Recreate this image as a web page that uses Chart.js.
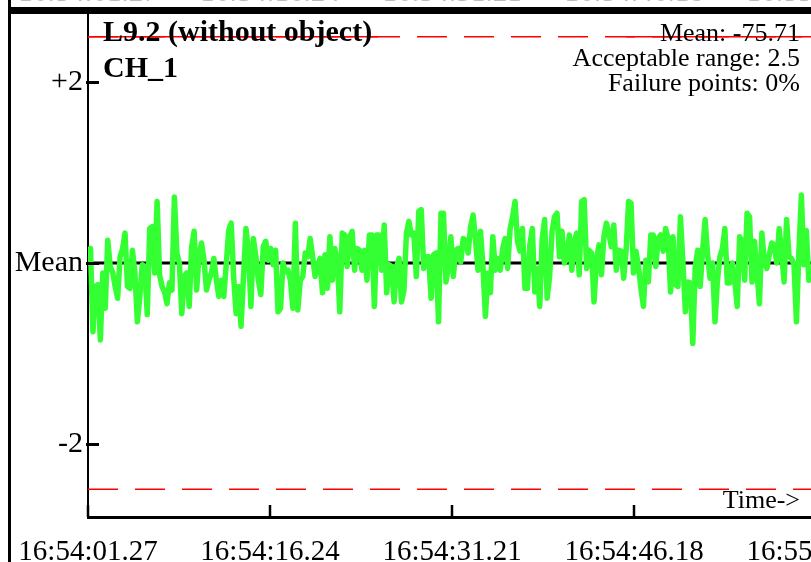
<!DOCTYPE html>
<html lang="en">
<head>
  <meta charset="UTF-8" />
  <title>L9.2 CH_1</title>
  <script src="https://cdn.jsdelivr.net/npm/chart.js"></script>
  <style>
    html, body { margin: 0; padding: 0; background: #fff; overflow: hidden; }
    #wrap { position: absolute; left: 0; top: 0; width: 1000px; height: 562px; }
  </style>
</head>
<body>
  <div id="wrap"><canvas id="chart" width="1000" height="562"></canvas></div>

  <script>
    // tick values (seconds from start) and their labels
    const tickValues = [0, 14.97, 29.94, 44.91, 59.88];
    const tickLabels = ['16:54:01.27', '16:54:16.24', '16:54:31.21', '16:54:46.18', '16:55:01.15'];

    // y ticks (deviation from mean)
    const yTickValues = [-2, 0, 2];
    const yTickLabels = ['-2', 'Mean', '+2'];

    const acceptableRange = 2.5;
    const sampleStep = 0.203; // seconds between samples

    // deviation from mean
    const deviation = [
      0.00, 0.16, -0.76, -0.26, -0.24, -0.85, -0.11, -0.50, 0.25, -0.04,
      -0.10, -0.26, -0.39, 0.07, 0.16, 0.33, -0.26, -0.28, 0.14, -0.11,
      -0.65, -0.37, -0.02, -0.04, -0.57, 0.38, 0.40, -0.11, 0.68, -0.13,
      -0.26, -0.32, -0.45, -0.22, -0.30, 0.73, 0.11, 0.00, -0.56, -0.15,
      -0.11, -0.48, 0.18, 0.35, -0.30, 0.09, 0.22, 0.03, -0.30, -0.19,
      -0.11, 0.05, -0.19, -0.37, -0.19, -0.37, -0.02, 0.36, 0.44, -0.15,
      -0.56, -0.26, -0.70, -0.15, 0.38, 0.13, -0.48, 0.27, 0.07, -0.19,
      -0.35, 0.18, 0.24, 0.03, 0.16, -0.02, 0.14, -0.54, -0.50, 0.00,
      -0.10, -0.08, -0.19, -0.50,
      0.44, -0.52, -0.19, -0.15, 0.11, 0.07, 0.27, 0.07, -0.15, -0.04,
      0.05, -0.33, 0.09, -0.28, 0.29, -0.19, 0.16, 0.03, -0.54, 0.33,
      0.31, -0.04, 0.29, 0.35, -0.08, 0.16, 0.14, -0.08, 0.14, -0.19,
      0.31, 0.31, -0.48, 0.31, 0.31, -0.08, 0.42, -0.33, -0.02, -0.04,
      -0.43, -0.04, 0.05, -0.43, -0.30, 0.33, 0.46, 0.31, 0.33, -0.15,
      0.57, 0.59, -0.06, 0.07, 0.07, -0.39, 0.09, 0.11, -0.65, 0.55,
      0.55, -0.21, -0.04, 0.29, -0.15, 0.14, 0.16, 0.01, 0.27, 0.25,
      0.11, 0.40, 0.53, 0.25, -0.08, 0.35, -0.04, -0.59, -0.11, -0.33,
      0.29, -0.08, 0.05, -0.08, 0.16, 0.27, -0.06, 0.38, 0.51, 0.68,
      0.24, 0.13, 0.38, -0.28, -0.28, 0.20, 0.38, -0.32, -0.06, -0.48,
      0.27, 0.48, -0.39, -0.15, 0.35, 0.51, 0.55, 0.07, 0.35, 0.00,
      0.05, 0.31, -0.08, 0.24, 0.33, -0.13, 0.68, 0.70, -0.06, 0.14,
      0.11, -0.43, 0.03, 0.20, -0.13, 0.29, 0.44, 0.33, 0.18, 0.42,
      -0.08, 0.14, 0.13, -0.17, 0.14, 0.68, 0.66, -0.11, 0.13, -0.04,
      -0.28, -0.48, 0.03, -0.21, 0.31, 0.31, -0.04, 0.27, 0.31, 0.13,
      0.38, 0.27, -0.32, 0.29, -0.24, -0.26, 0.51, 0.00, -0.54, -0.21,
      -0.22, -0.89, -0.04, 0.14, -0.26, 0.14, 0.48, 0.09, -0.17, 0.00,
      -0.65, -0.19, 0.07, 0.16, 0.38, -0.22, -0.22, 0.00, -0.19, -0.48,
      0.29, 0.24, -0.19, 0.55, 0.51, -0.21, 0.24, -0.10, -0.45, 0.33,
      0.01, -0.06, 0.09, 0.22, 0.20, 0.00, 0.38, 0.09, -0.21, 0.48,
      0.07, 0.05, -0.02, -0.65, 0.14, 0.75, -0.02, 0.36, -0.19
    ];

    // solid stretches of the upper limit line (seconds)
    const upperSolid = [[0, 23.85], [44.25, 58.73]];

    const title = 'L9.2 (without object)';
    const channel = 'CH_1';
    const stats = ['Mean: -75.71', 'Acceptable range: 2.5', 'Failure points: 0%'];

    const X_MAX = 75.0;
    const Y_MIN = -2.807, Y_MAX = 2.751;
    const serif = '"Liberation Serif", "Times New Roman", serif';

    const points = deviation.map((v, i) => ({ x: i * sampleStep, y: v }));
    const flat = (y) => [{ x: 0, y: y }, { x: X_MAX, y: y }];

    const solidSets = upperSolid.map(s => ({
      data: [{ x: s[0], y: acceptableRange }, { x: s[1], y: acceptableRange }],
      borderColor: '#ff0000', borderWidth: 1.5, pointRadius: 0
    }));

    // no extra room for tick label overhang
    function noPad(scale) {
      scale.paddingTop = 0; scale.paddingBottom = 0;
      scale.paddingLeft = 0; scale.paddingRight = 0;
    }

    // frame, inward tick marks and free text
    const decor = {
      id: 'decor',
      afterDraw(chart) {
        const ctx = chart.ctx;
        const xs = chart.scales.x, ys = chart.scales.y;
        const area = chart.chartArea;
        ctx.save();

        // tick marks pointing into the plot
        ctx.strokeStyle = '#000';
        ctx.lineWidth = 3;
        yTickValues.forEach(v => {
          const y = Math.round(ys.getPixelForValue(v)) + 0.5;
          ctx.beginPath(); ctx.moveTo(area.left - 2, y); ctx.lineTo(area.left + 11, y); ctx.stroke();
        });
        ctx.lineWidth = 2.5;
        tickValues.forEach(v => {
          const x = Math.round(xs.getPixelForValue(v));
          ctx.beginPath(); ctx.moveTo(x, area.bottom); ctx.lineTo(x, area.bottom - 12); ctx.stroke();
        });

        // clipped labels of the panel above
        ctx.fillStyle = '#bbb';
        ctx.font = '29px ' + serif;
        ctx.textAlign = 'center';
        ctx.textBaseline = 'alphabetic';
        tickValues.forEach((v, i) => ctx.fillText(tickLabels[i], xs.getPixelForValue(v), 1));

        // frame
        ctx.fillStyle = '#000';
        ctx.fillRect(8, 7, chart.width, 7);
        ctx.fillRect(8, 0, 3, chart.height);

        // titles
        ctx.textAlign = 'left';
        ctx.font = 'bold 30px ' + serif;
        ctx.fillText(title, 103, 41);
        ctx.fillText(channel, 103, 77);

        ctx.textAlign = 'right';
        ctx.font = '26px ' + serif;
        stats.forEach((s, i) => ctx.fillText(s, 800, 41 + i * 25));
        ctx.fillText('Time->', 800, 508);

        ctx.restore();
      }
    };

    new Chart(document.getElementById('chart'), {
      type: 'line',
      data: {
        datasets: [
          {
            data: points,
            borderColor: '#33ff33', borderWidth: 5.5, pointRadius: 0,
            borderJoinStyle: 'round', borderCapStyle: 'round'
          },
          { data: flat(0), borderColor: '#000', borderWidth: 3, pointRadius: 0 },
          { data: flat(acceptableRange), borderColor: '#ff0000', borderWidth: 1.5, borderDash: [30, 17], pointRadius: 0 },
          { data: flat(-acceptableRange), borderColor: '#ff0000', borderWidth: 1.5, borderDash: [30, 17], pointRadius: 0 },
          ...solidSets
        ]
      },
      options: {
        responsive: false,
        animation: false,
        devicePixelRatio: 1,
        layout: { padding: { top: 14, right: 0, bottom: 0, left: 0 } },
        plugins: { legend: { display: false }, tooltip: { enabled: false } },
        elements: { line: { tension: 0 } },
        scales: {
          x: {
            type: 'linear', min: 0, max: X_MAX,
            grid: { display: false, drawTicks: false },
            border: { display: true, color: '#000', width: 3 },
            afterFit(scale) { scale.height = 45; noPad(scale); },
            afterBuildTicks(scale) { scale.ticks = tickValues.map(v => ({ value: v })); },
            ticks: {
              autoSkip: false, maxRotation: 0, padding: 18, color: '#000',
              font: { family: serif, size: 29 },
              callback: (value, index) => tickLabels[index]
            }
          },
          y: {
            type: 'linear', min: Y_MIN, max: Y_MAX,
            grid: { display: false, drawTicks: false },
            border: { display: true, color: '#000', width: 2 },
            afterFit(scale) { scale.width = 88; noPad(scale); },
            afterBuildTicks(scale) { scale.ticks = yTickValues.map(v => ({ value: v })); },
            ticks: {
              autoSkip: false, padding: 5, color: '#000',
              font: { family: serif, size: 30 },
              callback: (value, index) => yTickLabels[index]
            }
          }
        }
      },
      plugins: [decor]
    });
  </script>
</body>
</html>
